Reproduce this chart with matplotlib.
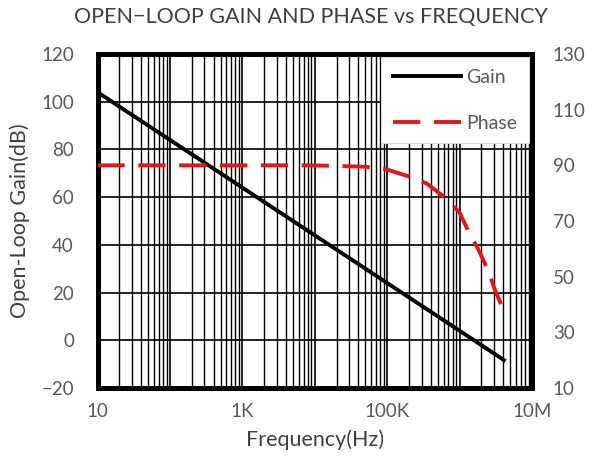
import matplotlib.pyplot as plt
from matplotlib.ticker import LogLocator, NullFormatter

plt.rcParams['font.family'] = ['Lato', 'DejaVu Sans']

# gain curve (dB)
gain_freq = [10, 100, 1e3, 1e4, 1e5, 1e6, 4.1e6]
gain_db = [104, 84, 64, 44, 24, 4, -8.3]

# phase curve (deg), right axis
phase_freq = [10, 1e3, 1e4, 5e4, 1e5, 2e5, 3.5e5, 7e5, 1e6, 1.4e6, 1.8e6, 2.5e6, 3e6, 4.1e6]
phase_deg = [90, 90, 90, 89.5, 88.5, 86, 83.5, 77.5, 73, 65, 60, 52, 46, 37.5]

xticks = [10, 1e2, 1e3, 1e4, 1e5, 1e6, 1e7]
xticklabels = ['10', '', '1K', '', '100K', '', '10M']
left_ticks = [-20, 0, 20, 40, 60, 80, 100, 120]
right_ticks = [10, 30, 50, 70, 90, 110, 130]

tick_col = '#595959'
text_col = '#404040'

fig = plt.figure(figsize=(5.93, 4.61), dpi=100)
ax = fig.add_axes([97.5/593, 1-388/461, 434.5/593, 334/461])

ax.set_xscale('log')
ax.set_xlim(10, 1e7)
ax.set_ylim(-20, 120)
ax.set_xticks(xticks)
ax.set_xticklabels(xticklabels)
ax.xaxis.set_minor_locator(LogLocator(base=10, subs=range(2, 10), numticks=20))
ax.xaxis.set_minor_formatter(NullFormatter())
ax.set_yticks(left_ticks)

ax.grid(True, which='major', axis='both', color='black', lw=1.2)
ax.grid(True, which='minor', axis='x', color='black', lw=1.0)
ax.set_axisbelow(True)

g, = ax.plot(gain_freq, gain_db, color='black', lw=2.8, label='Gain', zorder=3)

ax2 = ax.twinx()
ax2.set_ylim(10, 130)
ax2.set_yticks(right_ticks)
p, = ax2.plot(phase_freq, phase_deg, color='#e3161b', lw=2.8, dashes=(7, 3.5),
              label='Phase', zorder=3)

for a in (ax, ax2):
    for s in a.spines.values():
        s.set_linewidth(3.6)
        s.set_color('black')
ax.tick_params(axis='both', which='both', length=0, labelsize=13.5, labelcolor=tick_col)
ax.tick_params(axis='x', pad=11)
ax.tick_params(axis='y', pad=17)
ax2.tick_params(axis='y', which='both', length=0, labelsize=13.5, labelcolor=tick_col, pad=15)

ax.set_xlabel('Frequency(Hz)', fontsize=15.5, color=text_col)
ax.xaxis.set_label_coords(0.5, -0.156)
ax.xaxis.label.set_va('center')
ax.set_ylabel('Open-Loop Gain(dB)', fontsize=15.5, color=text_col)
ax.yaxis.set_label_coords(-0.178, 0.5)
ax.yaxis.label.set_va('center')

fig.text(311/593, 1-17/461, 'OPEN\u2212LOOP GAIN AND PHASE vs FREQUENCY',
         ha='center', va='center', fontsize=15.5, color=text_col)

leg = ax2.legend([g, p], ['Gain', 'Phase'], loc='upper right', bbox_to_anchor=(1, 1),
                 borderaxespad=0.15, fontsize=14, handlelength=3.5, handletextpad=0.3,
                 labelspacing=1.5, borderpad=0.6, fancybox=False, framealpha=1)
leg.get_frame().set_edgecolor('#d9d9d9')
leg.get_frame().set_linewidth(0.8)
for t in leg.get_texts():
    t.set_color(tick_col)
leg.set_zorder(10)

plt.savefig('out.png', dpi=100)
